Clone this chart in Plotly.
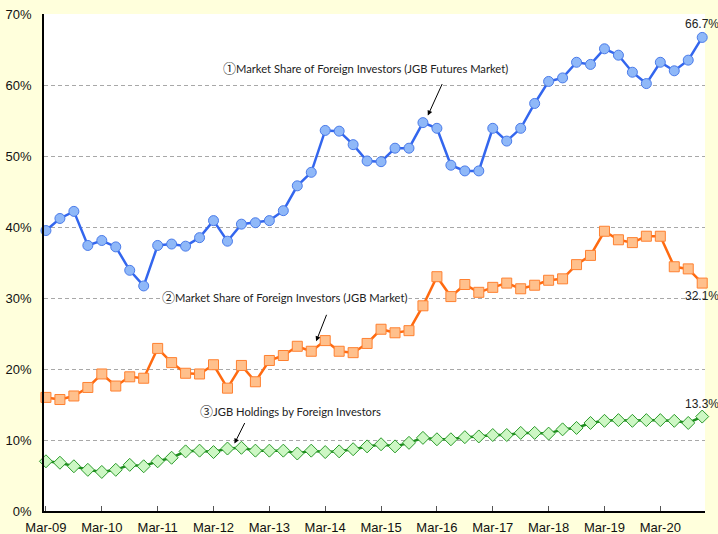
import plotly.graph_objects as go

# Quarterly data Mar-09 .. Dec-20 (48 quarters)
quarter_index = list(range(48))
year_ticks = [0, 4, 8, 12, 16, 20, 24, 28, 32, 36, 40, 44]
year_labels = ["Mar-09", "Mar-10", "Mar-11", "Mar-12", "Mar-13", "Mar-14",
               "Mar-15", "Mar-16", "Mar-17", "Mar-18", "Mar-19", "Mar-20"]

futures_share = [39.5, 41.2, 42.2, 37.4, 38.1, 37.2, 33.9, 31.7, 37.4, 37.6, 37.3, 38.5,
                 40.9, 38.0, 40.4, 40.6, 40.9, 42.3, 45.8, 47.7, 53.6, 53.5, 51.6, 49.3,
                 49.2, 51.1, 51.1, 54.7, 53.9, 48.7, 47.9, 47.9, 53.9, 52.1, 53.9, 57.4,
                 60.5, 61.0, 63.2, 62.9, 65.1, 64.2, 61.8, 60.2, 63.2, 62.0, 63.5, 66.7]

jgb_market_share = [16.0, 15.7, 16.2, 17.4, 19.3, 17.6, 18.9, 18.7, 22.9, 20.9, 19.4, 19.3,
                    20.6, 17.3, 20.5, 18.2, 21.2, 21.9, 23.2, 22.5, 24.0, 22.5, 22.3, 23.6,
                    25.6, 25.1, 25.4, 28.9, 33.0, 30.2, 31.9, 30.8, 31.5, 32.1, 31.3, 31.8,
                    32.5, 32.7, 34.7, 36.0, 39.4, 38.2, 37.8, 38.7, 38.7, 34.4, 34.1, 32.1]

jgb_holdings = [7.0, 6.8, 6.3, 5.8, 5.5, 5.8, 6.5, 6.3, 7.0, 7.5, 8.4, 8.5,
                8.3, 8.8, 8.9, 8.5, 8.5, 8.5, 8.1, 8.5, 8.3, 8.4, 8.7, 9.1,
                9.4, 9.1, 9.6, 10.3, 10.1, 10.1, 10.4, 10.5, 10.7, 10.7, 11.0, 11.0,
                10.9, 11.5, 11.7, 12.4, 12.7, 12.8, 12.7, 12.8, 12.8, 12.7, 12.4, 13.3]

series_marks = ["①", "②", "③"]
series_names = ["Market Share of Foreign Investors (JGB Futures Market)",
                "Market Share of Foreign Investors (JGB Market)",
                "JGB Holdings by Foreign Investors"]

fig = go.Figure()

fig.add_trace(go.Scatter(
    x=quarter_index, y=futures_share, mode="lines+markers", name=series_names[0],
    line=dict(color="#3366EE", width=2.5),
    marker=dict(symbol="circle", size=10, color="#8FB8F8",
                line=dict(color="#4A7BEA", width=1)),
    cliponaxis=False,
))
fig.add_trace(go.Scatter(
    x=quarter_index, y=jgb_market_share, mode="lines+markers", name=series_names[1],
    line=dict(color="#FF6A10", width=2.5),
    marker=dict(symbol="square", size=10, color="#FFC08C",
                line=dict(color="#FF8030", width=1)),
    cliponaxis=False,
))
fig.add_trace(go.Scatter(
    x=quarter_index, y=jgb_holdings, mode="lines+markers", name=series_names[2],
    line=dict(color="#1E8C1E", width=2.5),
    marker=dict(symbol="diamond", size=10, color="#CDF7C4",
                line=dict(color="#2A9A2A", width=1)),
    cliponaxis=False,
))


def title_text(i):
    return ("<span style='font-family:Noto Sans CJK JP;font-size:13px'>" + series_marks[i]
            + "</span>" + series_names[i])


label_font = dict(family="Lato, 'Open Sans', sans-serif", size=11.2, color="#222222")
annotations = [
    # series titles
    dict(x=22.9, y=62.5, text=title_text(0), showarrow=False, font=label_font),
    dict(x=17.1, y=30.2, text=title_text(1), showarrow=False, font=label_font,
         bgcolor="white"),
    dict(x=17.5, y=14.1, text=title_text(2), showarrow=False, font=label_font),
    # arrows
    dict(x=27.35, y=55.7, ax=15, ay=-33, text="", showarrow=True, arrowhead=2,
         arrowsize=1, arrowwidth=1, arrowcolor="black"),
    dict(x=19.35, y=23.9, ax=11, ay=-28, text="", showarrow=True, arrowhead=2,
         arrowsize=1, arrowwidth=1, arrowcolor="black"),
    dict(x=13.5, y=9.5, ax=11, ay=-22, text="", showarrow=True, arrowhead=2,
         arrowsize=1, arrowwidth=1, arrowcolor="black"),
]
end_font = dict(family="'Liberation Sans Narrow', Arial, sans-serif", size=12, color="#222222")
annotations += [
    dict(x=quarter_index[-1], y=futures_share[-1], text=f"{futures_share[-1]:.1f}%",
         showarrow=False, yshift=13, font=end_font),
    dict(x=quarter_index[-1], y=jgb_market_share[-1], text=f"{jgb_market_share[-1]:.1f}%",
         showarrow=False, yshift=-13, font=end_font),
    dict(x=quarter_index[-1], y=jgb_holdings[-1], text=f"{jgb_holdings[-1]:.1f}%",
         showarrow=False, yshift=13, font=end_font),
]

fig.update_layout(
    width=718, height=534,
    margin=dict(l=44, r=13, t=14, b=23, autoexpand=False),
    paper_bgcolor="#FFFFDC",
    plot_bgcolor="white",
    showlegend=False,
    annotations=annotations,
    font=dict(family="Arial, 'Liberation Sans', sans-serif", size=13, color="#111111"),
)
fig.update_xaxes(
    range=[-0.14, 47.2], tickvals=year_ticks, ticktext=year_labels,
    showgrid=False, zeroline=False, showline=True, linecolor="black", linewidth=1.5,
    ticks="inside", ticklen=5, tickcolor="#555555", ticklabelstandoff=4,
    automargin=False,
)
fig.update_yaxes(
    range=[0, 70], dtick=10, ticksuffix="%",
    showgrid=True, gridcolor="#A8A8A8", griddash="4px,3px", gridwidth=1,
    zeroline=False, showline=True, linecolor="black", linewidth=1.5,
    ticks="", ticklabelstandoff=8, automargin=False,
)

fig.write_html("out.html", config={"displayModeBar": False},
               post_script="document.body.style.margin='0';document.body.style.padding='0';")
